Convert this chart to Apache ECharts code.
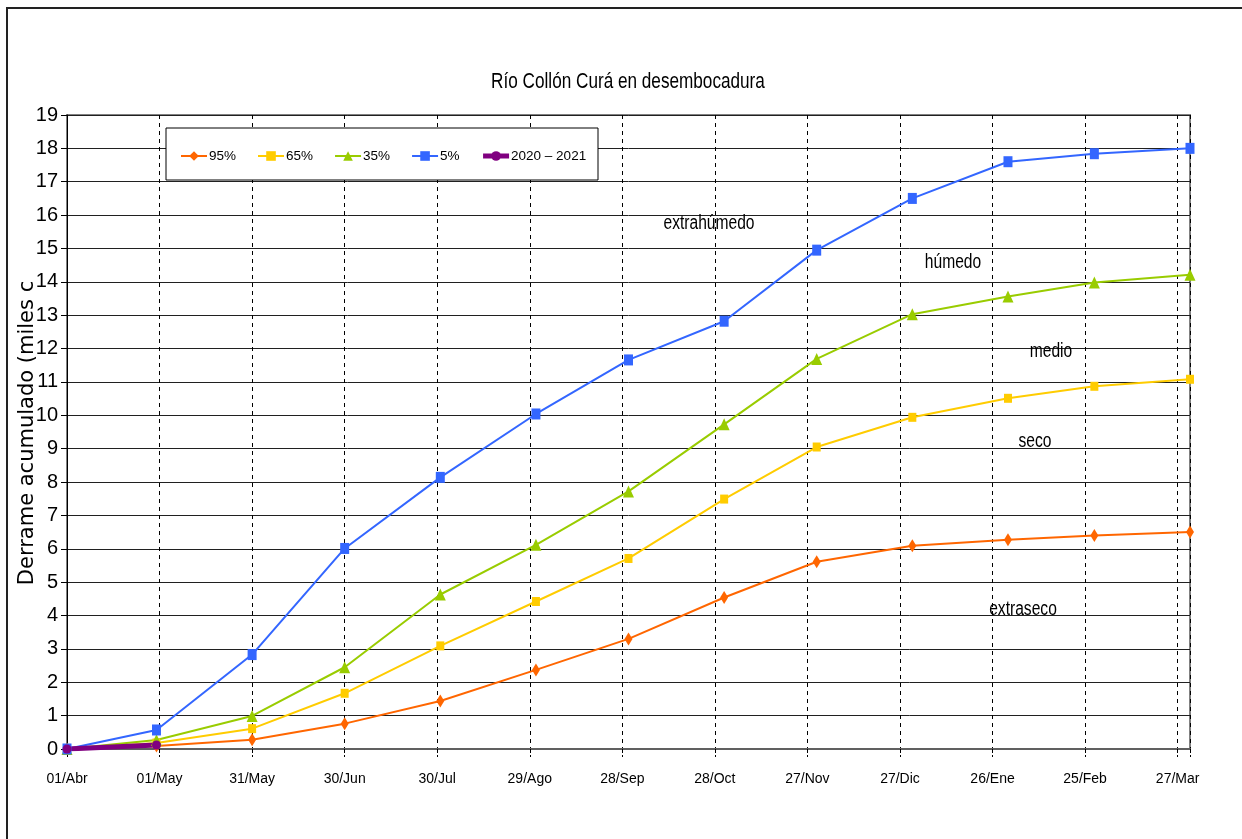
<!DOCTYPE html>
<html>
<head>
<meta charset="utf-8">
<script src="https://cdn.jsdelivr.net/npm/echarts@6/dist/echarts.min.js"></script>
<style>
html,body{margin:0;padding:0;background:#fff;}
#chart{width:1242px;height:839px;}
</style>
</head>
<body>
<div id="chart"></div>
<script>
// ---- data ----
const titleText = 'Río Collón Curá en desembocadura';
const yTitle = 'Derrame acumulado (miles c';
const xTickLabels = ['01/Abr','01/May','31/May','30/Jun','30/Jul','29/Ago','28/Sep','28/Oct','27/Nov','27/Dic','26/Ene','25/Feb','27/Mar'];
const days = [0,29,60,90,121,152,182,213,243,274,305,333,364];
const s95 = [0,0.09,0.28,0.76,1.44,2.37,3.30,4.54,5.61,6.09,6.27,6.40,6.50];
const s65 = [0,0.18,0.61,1.67,3.09,4.42,5.71,7.49,9.05,9.94,10.51,10.87,11.08];
const s35 = [0,0.27,0.99,2.45,4.63,6.12,7.72,9.73,11.69,13.03,13.56,13.98,14.21];
const s5  = [0,0.57,2.83,6.01,8.14,10.04,11.66,12.82,14.95,16.50,17.60,17.84,18.00];
const days2020 = [0,29];
const s2020 = [0,0.12];
const seriesNames = ['95%','65%','35%','5%','2020 – 2021'];
const zoneLabels = [
  {text:'extrahúmedo', x:709, y:223},
  {text:'húmedo', x:953, y:262},
  {text:'medio', x:1051, y:351},
  {text:'seco', x:1035, y:441},
  {text:'extraseco', x:1023, y:609}
];

const SANS = '"Liberation Sans",Arial,sans-serif';
const NARROW_SCALE = 0.78;
const pair = (xs, ys) => xs.map((d,i)=>[d, ys[i]]);

const chart = echarts.init(document.getElementById('chart'));
const option = {
  animation: false,
  backgroundColor: '#fff',
  legend: {
    data: seriesNames.map(n => n === '2020 – 2021' ? {name: n, lineStyle: {width: 5}} : {name: n}),
    left: 180, top: 149, padding: 0,
    itemWidth: 26, itemHeight: 12, itemGap: 21,
    textStyle: {fontFamily: SANS, fontSize: 13.5, color: '#000', padding: [0,0,0,-3]},
    z: 6
  },
  grid: {left: 67, right: 52, top: 115, bottom: 90, show: true, borderColor: '#808080', borderWidth: 2, backgroundColor: 'transparent'},
  xAxis: {
    type: 'value', min: 0, max: 364, interval: 30,
    axisLine: {show: true, onZero: false, lineStyle: {color: '#606060', width: 2}},
    axisTick: {show: true, length: 8, lineStyle: {color: '#000', type: 'dashed'}},
    axisLabel: {
      margin: 23, fontFamily: SANS, fontSize: 14, color: '#000',
      formatter: v => (v % 30 === 0 && xTickLabels[v/30] !== undefined) ? xTickLabels[v/30] : ''
    },
    splitLine: {show: true, lineStyle: {color: '#000', type: [4,4], width: 1}}
  },
  yAxis: {
    type: 'value', min: 0, max: 19, interval: 1,
    axisLine: {show: true, lineStyle: {color: '#000', width: 1}},
    axisTick: {show: true, length: 6, lineStyle: {color: '#000'}},
    axisLabel: {margin: 9, fontFamily: SANS, fontSize: 20, color: '#000'},
    splitLine: {show: true, lineStyle: {color: '#202020', width: 1}}
  },
  graphic: [
    {type:'rect', shape:{x:7, y:8, width:1400, height:1000}, style:{fill:'none', stroke:'#222', lineWidth:2}, z: 1, silent: true},
    {type:'rect', shape:{x:166, y:128, width:432, height:52}, style:{fill:'#fff', stroke:'#000', lineWidth:1}, z: 5, silent: true},
    {type:'text', x:628, y:82, scaleX: NARROW_SCALE, style:{text: titleText, fontFamily:SANS, fontSize: 22, fill:'#000', align:'center', verticalAlign:'middle'}, z: 5},
    {type:'text', x:28, y:433, rotation: Math.PI/2, style:{text: yTitle, fontFamily:'"DejaVu Sans",sans-serif', fontSize: 21, fill:'#000', align:'center', verticalAlign:'middle'}, z: 1},
    ...zoneLabels.map(l => ({type:'text', x:l.x, y:l.y, scaleX: NARROW_SCALE, style:{text:l.text, fontFamily:SANS, fontSize:20, fill:'#000', align:'center', verticalAlign:'middle'}, z: 5}))
  ],
  series: [
    {name:'95%', type:'line', data: pair(days, s95), symbol:'diamond', symbolSize:[8,13], lineStyle:{color:'#FF6600', width:2}, itemStyle:{color:'#FF6600'}},
    {name:'65%', type:'line', data: pair(days, s65), symbol:'rect', symbolSize:[8,9], lineStyle:{color:'#FFCC00', width:2}, itemStyle:{color:'#FFCC00'}},
    {name:'35%', type:'line', data: pair(days, s35), symbol:'triangle', symbolSize:[11,12], lineStyle:{color:'#99CC00', width:2}, itemStyle:{color:'#99CC00'}},
    {name:'5%', type:'line', data: pair(days, s5), symbol:'rect', symbolSize:[9,11], lineStyle:{color:'#3366FF', width:2}, itemStyle:{color:'#3366FF'}},
    {name:'2020 – 2021', type:'line', data: pair(days2020, s2020), symbol:'circle', symbolSize:9, lineStyle:{color:'#800080', width:5}, itemStyle:{color:'#800080'}}
  ]
};
chart.setOption(option);
</script>
</body>
</html>
